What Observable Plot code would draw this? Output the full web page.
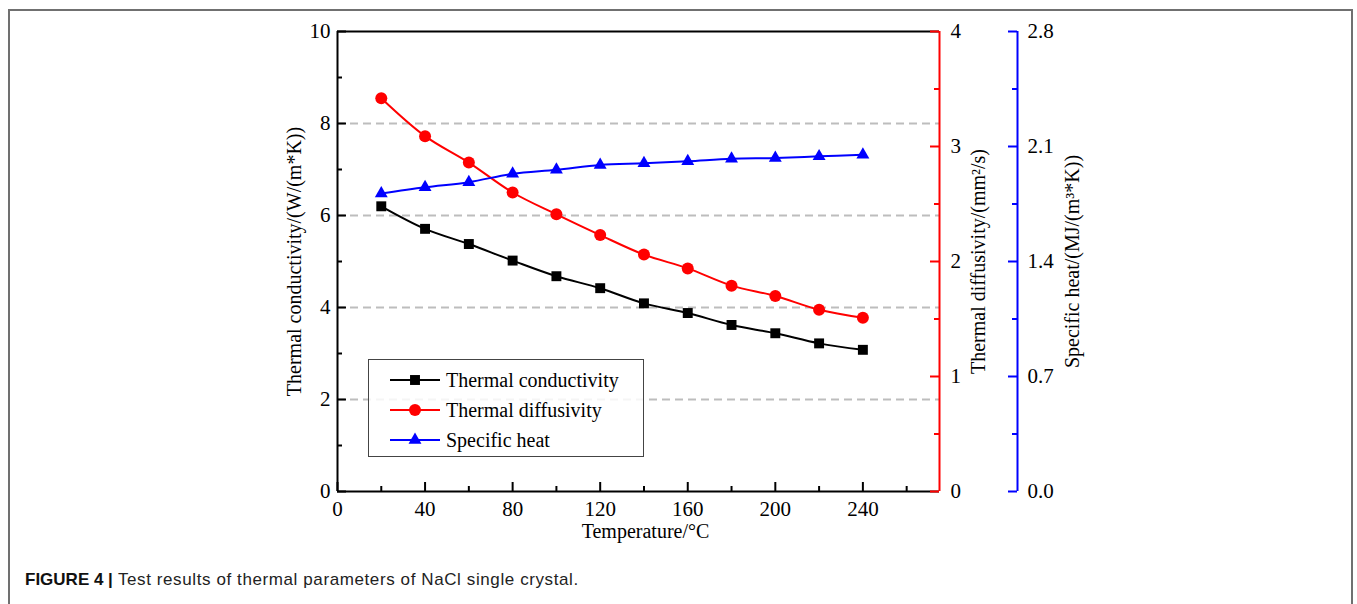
<!DOCTYPE html>
<html>
<head>
<meta charset="utf-8">
<script src="https://cdn.jsdelivr.net/npm/d3@7"></script>
<script src="https://cdn.jsdelivr.net/npm/@observablehq/plot@0.6"></script>
<style>
  html, body { margin: 0; padding: 0; background: #fff; overflow: hidden; }
  #wrap { position: relative; width: 1357px; height: 604px; overflow: hidden; }
  #border { position: absolute; left: 8px; top: 9px; width: 1345px; height: 700px;
            border: 2px solid #707070; box-sizing: border-box; }
  #chart { position: absolute; left: 0; top: 0; }
  #legend { position: absolute; left: 368px; top: 359px; width: 276px; height: 98px;
            box-sizing: border-box; border: 1.5px solid #444; background: rgba(255,255,255,0.85);
            font-family: 'Liberation Serif', 'Times New Roman', serif; font-size: 20px; color: #000;
            padding-top: 5px; }
  .row { display: flex; align-items: center; height: 30px; }
  .row svg { margin-left: 20px; margin-right: 5px; }
  #caption { position: absolute; left: 25px; top: 571px; font-family: 'Liberation Sans', Arial, sans-serif;
             font-size: 17px; line-height: 17px; color: #222; white-space: nowrap; }
  #caption b { font-weight: bold; color: #111; }
  #caption span { letter-spacing: 0.6px; }
</style>
</head>
<body>
<div id="wrap">
  <div id="border"></div>
  <div id="chart"></div>
  <div id="legend"></div>
  <div id="caption"><b>FIGURE 4 |</b><span> Test results of thermal parameters of NaCl single crystal.</span></div>
</div>
<script>
// ---- data ----
const temps = [20, 40, 60, 80, 100, 120, 140, 160, 180, 200, 220, 240];
const conductivity = [6.20, 5.71, 5.38, 5.02, 4.68, 4.42, 4.09, 3.88, 3.62, 3.44, 3.22, 3.08];
const diffusivity = [3.42, 3.09, 2.86, 2.60, 2.41, 2.23, 2.06, 1.94, 1.79, 1.70, 1.58, 1.51];
const specificHeat = [1.814, 1.852, 1.883, 1.934, 1.958, 1.988, 1.998, 2.010, 2.025, 2.030, 2.040, 2.050];

const seriesNames = ["Thermal conductivity", "Thermal diffusivity", "Specific heat"];
const seriesColors = ["#000000", "#ff0000", "#0000ff"];

const xTicks = [0, 40, 80, 120, 160, 200, 240];
const xMinorTicks = [20, 60, 100, 140, 180, 220, 260];
const condTicks = [0, 2, 4, 6, 8, 10];
const condMinorTicks = [1, 3, 5, 7, 9];
const diffTicks = [0, 1, 2, 3, 4];
const diffMinorTicks = [0.5, 1.5, 2.5, 3.5];
const heatTicks = [0, 0.7, 1.4, 2.1, 2.8];
const heatMinorTicks = [0.35, 1.05, 1.75, 2.45];
const gridValues = [2, 4, 6, 8];

const xMax = 275, condMax = 10, diffMax = 4, heatMax = 2.8;
const xLabel = "Temperature/°C";
const condLabel = "Thermal conductivity/(W/(m*K))";
const diffLabel = "Thermal diffusivity/(mm²/s)";
const heatLabel = "Specific heat/(MJ/(m³*K))";

// ---- layout ----
const W = 1357, H = 560, mL = 337, mR = 418, mT = 31, mB = 69;
const plotW = W - mL - mR, plotH = H - mT - mB;
const blueOffset = 78;
const majorLen = 9, minorLen = 5;

const toDiff = v => v * condMax / diffMax;
const toHeat = v => v * condMax / heatMax;

const rows = temps.map((t, i) => ({t, cond: conductivity[i], diff: toDiff(diffusivity[i]), heat: toHeat(specificHeat[i])}));

const black = seriesColors[0], red = seriesColors[1], blue = seriesColors[2];

const chart = Plot.plot({
  width: W, height: H,
  marginLeft: mL, marginRight: mR, marginTop: mT, marginBottom: mB,
  x: {domain: [0, xMax], axis: null},
  y: {domain: [0, condMax], axis: null},
  style: {fontFamily: "'Liberation Serif', 'Times New Roman', serif", fontSize: "21px", color: "#000", background: "transparent", overflow: "visible"},
  marks: [
    // grid
    Plot.ruleY(gridValues, {stroke: "#bdbdbd", strokeWidth: 2, strokeDasharray: "8,5"}),
    // frame lines
    Plot.ruleY([0], {stroke: black, strokeWidth: 2}),
    Plot.ruleY([condMax], {stroke: black, strokeWidth: 2}),
    Plot.ruleX([0], {stroke: black, strokeWidth: 2}),
    Plot.ruleX([xMax], {stroke: red, strokeWidth: 2}),
    Plot.ruleX([xMax], {stroke: blue, strokeWidth: 2, dx: blueOffset}),
    // bottom ticks (inward)
    Plot.tickX(xTicks, {x: d => d, stroke: black, strokeWidth: 2, insetTop: plotH - majorLen}),
    Plot.tickX(xMinorTicks, {x: d => d, stroke: black, strokeWidth: 2, insetTop: plotH - minorLen}),
    // left ticks (inward)
    Plot.tickY(condTicks, {y: d => d, stroke: black, strokeWidth: 2, insetRight: plotW - majorLen}),
    Plot.tickY(condMinorTicks, {y: d => d, stroke: black, strokeWidth: 2, insetRight: plotW - minorLen}),
    // red ticks (inward)
    Plot.tickY(diffTicks, {y: d => toDiff(d), stroke: red, strokeWidth: 2, insetLeft: plotW - majorLen}),
    Plot.tickY(diffMinorTicks, {y: d => toDiff(d), stroke: red, strokeWidth: 2, insetLeft: plotW - minorLen}),
    // blue ticks
    Plot.tickY(heatTicks, {y: d => toHeat(d), stroke: blue, strokeWidth: 2, insetLeft: plotW - majorLen, dx: blueOffset}),
    Plot.tickY(heatMinorTicks, {y: d => toHeat(d), stroke: blue, strokeWidth: 2, insetLeft: plotW - minorLen, dx: blueOffset}),
    // tick labels
    Plot.axisX(xTicks, {anchor: "bottom", tickSize: 0, tickPadding: 10, fontSize: 21, label: null}),
    Plot.axisY(condTicks, {anchor: "left", tickSize: 0, tickPadding: 7, fontSize: 21, label: null}),
    Plot.axisY(diffTicks.map(toDiff), {anchor: "right", tickSize: 0, tickPadding: 11, fontSize: 21, label: null,
      tickFormat: d => String(+(d * diffMax / condMax).toFixed(2))}),
    Plot.axisY(heatTicks.map(toHeat), {anchor: "right", tickSize: 0, tickPadding: 10, dx: blueOffset, fontSize: 21, label: null,
      tickFormat: d => (d * heatMax / condMax).toFixed(1)}),
    // axis titles
    Plot.text([xLabel], {text: d => d, frameAnchor: "bottom", dy: 40, dx: 7, lineAnchor: "middle", textAnchor: "middle", fontSize: 20}),
    Plot.text([condLabel], {text: d => d, frameAnchor: "left", dx: -43, rotate: -90, lineAnchor: "middle", textAnchor: "middle", fontSize: 20}),
    Plot.text([diffLabel], {text: d => d, frameAnchor: "right", dx: 39, rotate: -90, lineAnchor: "middle", textAnchor: "middle", fontSize: 20}),
    Plot.text([heatLabel], {text: d => d, frameAnchor: "right", dx: 133, rotate: -90, lineAnchor: "middle", textAnchor: "middle", fontSize: 20}),
    // series
    Plot.line(rows, {x: "t", y: "cond", stroke: black, strokeWidth: 2, curve: "catmull-rom"}),
    Plot.line(rows, {x: "t", y: "diff", stroke: red, strokeWidth: 2, curve: "catmull-rom"}),
    Plot.line(rows, {x: "t", y: "heat", stroke: blue, strokeWidth: 2, curve: "catmull-rom"}),
    Plot.dot(rows, {x: "t", y: "cond", symbol: "square", r: 5.6, fill: black, stroke: "none"}),
    Plot.dot(rows, {x: "t", y: "diff", symbol: "circle", r: 6, fill: red, stroke: "none"}),
    Plot.dot(rows, {x: "t", y: "heat", symbol: "triangle", r: 4.8, fill: blue, stroke: "none"})
  ]
});
document.getElementById("chart").appendChild(chart);

// legend
const symbols = [d3.symbolSquare, d3.symbolCircle, d3.symbolTriangle];
const symSizes = [Math.PI * 5.6 * 5.6, Math.PI * 36, Math.PI * 4.8 * 4.8];
const legend = document.getElementById("legend");
seriesNames.forEach((name, i) => {
  const row = document.createElement("div");
  row.className = "row";
  const svg = d3.create("svg").attr("width", 52).attr("height", 20);
  svg.append("line").attr("x1", 1).attr("x2", 51).attr("y1", 10).attr("y2", 10)
    .attr("stroke", seriesColors[i]).attr("stroke-width", 2);
  svg.append("path").attr("transform", "translate(26,10)")
    .attr("d", d3.symbol(symbols[i], symSizes[i])()).attr("fill", seriesColors[i]);
  row.appendChild(svg.node());
  const span = document.createElement("span");
  span.textContent = name;
  row.appendChild(span);
  legend.appendChild(row);
});
</script>
</body>
</html>
